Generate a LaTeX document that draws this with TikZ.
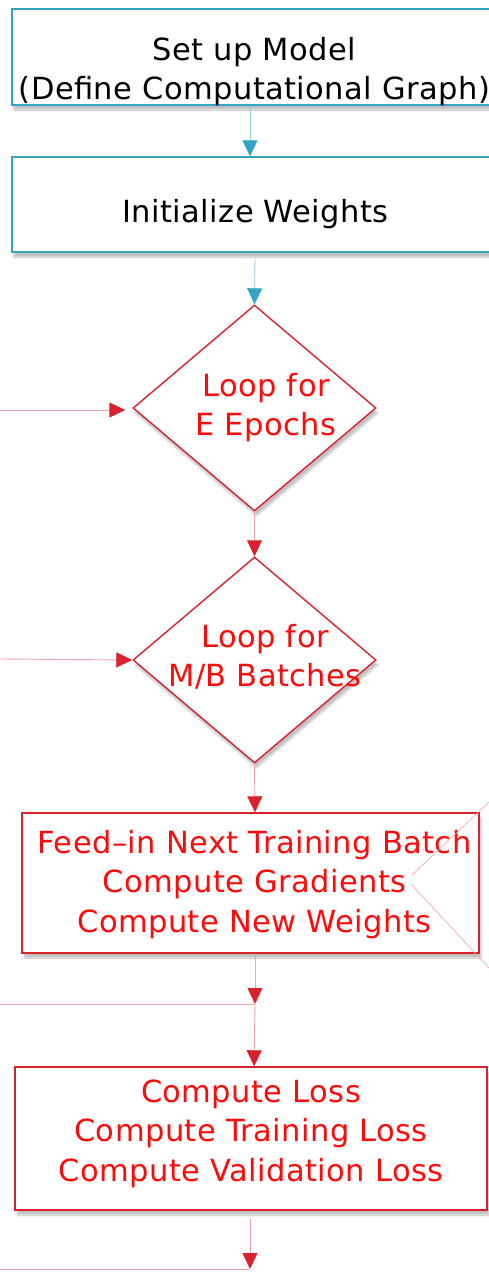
\documentclass[tikz,border=0pt]{standalone}
\usepackage{fontspec}
\setmainfont{DejaVu Sans}[LetterSpace=1.4]
\usetikzlibrary{shapes.geometric,arrows.meta,shadows.blur}
\definecolor{boxblue}{HTML}{33A4C4}
\definecolor{lineblue}{HTML}{96D2E2}
\definecolor{boxred}{HTML}{D8232F}
\definecolor{linered}{HTML}{F2A3AA}
\definecolor{txtred}{HTML}{FF0A0A}
\tikzset{
  shade/.style={blur shadow={shadow xshift=2pt,shadow yshift=-5pt,shadow blur steps=6,shadow opacity=25}},
  bluebox/.style={rectangle,draw=boxblue,line width=1.4pt,fill=white,inner sep=0pt,shade},
  redbox/.style={rectangle,draw=boxred,line width=1.4pt,fill=white,inner sep=0pt,shade},
  reddiam/.style={diamond,draw=boxred,line width=1.4pt,fill=white,inner sep=0pt,shade},
  txt/.style={anchor=north,inner sep=0pt,align=center,font=\fontsize{30.5}{39.5}\selectfont},
  bluetip/.style={-{Triangle[length=16pt,width=15pt,color=boxblue]}},
  redtip/.style={-{Triangle[length=16pt,width=15pt,color=boxred]}},
  blueline/.style={draw=lineblue,line width=0.9pt},
  redline/.style={draw=linered,line width=0.9pt},
}
\begin{document}
\begin{tikzpicture}[x=1pt,y=-1pt]
\useasboundingbox (0,0) rectangle (489,1275);
\clip (0,0) rectangle (489,1275);
% boxes
\node[bluebox,minimum width=490pt,minimum height=96pt] (b1) at (257,57) {};
\node[bluebox,minimum width=490pt,minimum height=95pt] (b2) at (257,204.5) {};
\node[reddiam,minimum width=243pt,minimum height=206pt] (d1) at (254.5,408) {};
\node[reddiam,minimum width=243pt,minimum height=206pt] (d2) at (254.5,660) {};
\node[redbox,minimum width=457pt,minimum height=140pt] (b3) at (250.5,883) {};
\node[redbox,minimum width=472pt,minimum height=143pt] (b4) at (251,1138.5) {};
% texts
\node[txt] (t1) at (254.5,36.8) {Set up Model\\(Define Computational Graph)};
\node[txt] (t2) at (255.5,199) {Initialize Weights};
\node[txt,text=txtred] (t3) at (266,373) {Loop for\\E Epochs};
\node[txt,text=txtred] (t4) at (265,624) {Loop for\\M/B Batches};
\node[txt,text=txtred] (t5) at (254.5,830) {Feed–in Next Training Batch\\Compute Gradients\\Compute New Weights};
\node[txt,text=txtred] (t6) at (251,1079.4) {Compute Loss\\Compute Training Loss\\Compute Validation Loss};
% free ends
\coordinate (in1) at (0,410);
\coordinate (in2) at (0,659);
\coordinate (in3) at (0,1004);
\coordinate (in4) at (0,1269);
\coordinate (j1) at (255,1004);
\coordinate (j2) at (250,1269);
\coordinate (r1) at (500,791.6);
\coordinate (r2) at (412,875);
\coordinate (r3) at (411,884);
\coordinate (r4) at (500,979.8);
% connectors
\draw[blueline,bluetip] ([xshift=-7pt]b1.south) -- ([xshift=-7pt]b2.north);
\draw[blueline,bluetip] ([xshift=-2pt,yshift=-6pt]b2.south) -- (d1.north);
\draw[redline,redtip] (in1) -- ([xshift=-7pt,yshift=-2pt]d1.west);
\draw[redline,redtip] (d1.south) -- (d2.north);
\draw[redline,redtip] (in2) -- (d2.west);
\draw[redline,redtip] (d2.south) -- ([xshift=4.5pt]b3.north);
\draw[redline,redtip] ([xshift=4.5pt]b3.south) -- (j1);
\draw[redline] (in3) -- (j1);
\draw[redline,redtip] (j1) -- ([xshift=3pt]b4.north);
\draw[redline,redtip] ([xshift=-1pt,yshift=-8pt]b4.south) -- (j2);
\draw[redline] (in4) -- (j2);
\draw[redline,line width=0.6pt] (r1) -- (r2);
\draw[redline,line width=0.6pt] (r3) -- (r4);
\end{tikzpicture}
\end{document}
